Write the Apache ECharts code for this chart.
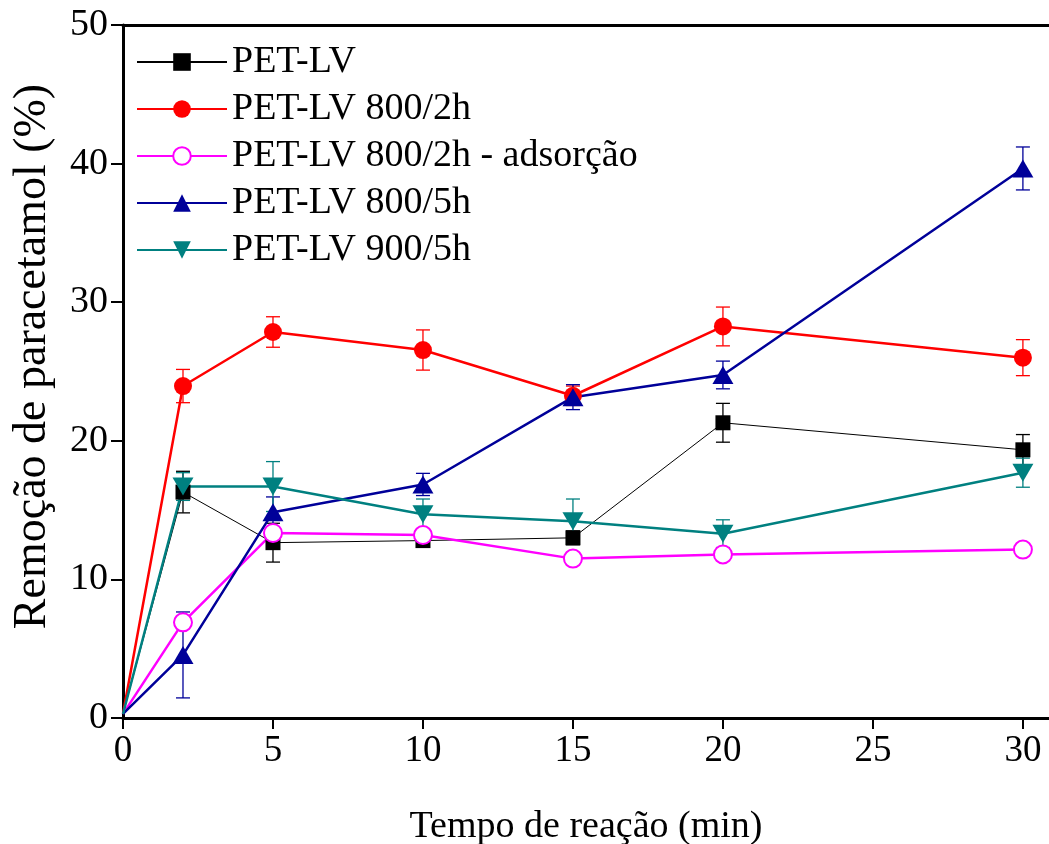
<!DOCTYPE html>
<html><head><meta charset="utf-8">
<script src="https://cdn.jsdelivr.net/npm/echarts@6/dist/echarts.min.js"></script>
<style>html,body{margin:0;padding:0;background:#fff}#c{width:1049px;height:844px}</style>
</head><body><div id="c"></div>
<script>
const times = [0, 2, 5, 10, 15, 20, 30];
const seriesNames = ["PET-LV", "PET-LV 800/2h", "PET-LV 800/2h - adsorção", "PET-LV 800/5h", "PET-LV 900/5h"];
const petLV      = [0.3, 16.3, 12.65, 12.8, 13.0, 21.3, 19.35];
const petLVErr   = [0, 1.5, 1.4, 0, 0.5, 1.4, 1.1];
const pet800_2h  = [0.3, 23.95, 27.85, 26.55, 23.25, 28.25, 26.0];
const pet800_2hErr = [0, 1.2, 1.1, 1.45, 0.7, 1.4, 1.3];
const pet800_2hAds = [0.3, 6.9, 13.35, 13.2, 11.5, 11.8, 12.15];
const pet800_2hAdsErr = [0, 0, 0, 0, 0, 0, 0];
const pet800_5h  = [0.3, 4.55, 14.85, 16.85, 23.15, 24.75, 39.65];
const pet800_5hErr = [0, 3.1, 1.1, 0.8, 0.9, 1.0, 1.55];
const pet900_5h  = [0.3, 16.7, 16.7, 14.7, 14.2, 13.3, 17.7];
const pet900_5hErr = [0, 1.0, 1.8, 1.1, 1.6, 1.0, 1.05];
const xTicks = [0, 5, 10, 15, 20, 25, 30];

const FONT = "Liberation Serif";
const colors = ["#000000", "#ff0000", "#ff00ff", "#000099", "#008080"];
const ys = [petLV, pet800_2h, pet800_2hAds, pet800_5h, pet900_5h];
const es = [petLVErr, pet800_2hErr, pet800_2hAdsErr, pet800_5hErr, pet900_5hErr];
const symbols = ["rect", "circle", "emptyCircle", "triangle", "triangle"];
const symSizes = [15, 18, 18, [21, 18], [21, 18]];
const rotates = [0, 0, 0, 0, 180];
const widths = [1, 2.5, 2.5, 2.5, 2.5];

const series = [];
ys.forEach((arr, k) => {
  series.push({
    type: 'custom', name: seriesNames[k] + ' err', silent: true, z: 1,
    data: times.map((t, i) => [t, arr[i] - es[k][i], arr[i] + es[k][i]]).filter((d, i) => es[k][i] > 0),
    renderItem: function (params, api) {
      const x = api.value(0);
      const lo = api.coord([x, api.value(1)]);
      const hi = api.coord([x, api.value(2)]);
      const w = 7;
      const st = { stroke: colors[k], lineWidth: 1.3 };
      return { type: 'group', children: [
        { type: 'line', shape: { x1: lo[0], y1: lo[1], x2: hi[0], y2: hi[1] }, style: st },
        { type: 'line', shape: { x1: lo[0] - w, y1: lo[1], x2: lo[0] + w, y2: lo[1] }, style: st },
        { type: 'line', shape: { x1: hi[0] - w, y1: hi[1], x2: hi[0] + w, y2: hi[1] }, style: st }
      ]};
    }
  });
});
ys.forEach((arr, k) => {
  series.push({
    type: 'line', name: seriesNames[k], z: 3,
    data: times.map((t, i) => i === 0 ? { value: [t, arr[i]], symbol: 'none' } : [t, arr[i]]),
    symbol: symbols[k], symbolSize: symSizes[k], symbolRotate: rotates[k],
    showAllSymbol: true,
    lineStyle: { color: colors[k], width: widths[k] },
    itemStyle: { color: colors[k], borderColor: colors[k], borderWidth: k === 2 ? 1.5 : 0 },
    emphasis: { disabled: true }, animation: false
  });
});

const chart = echarts.init(document.getElementById('c'), null, { renderer: 'canvas' });
chart.setOption({
  animation: false,
  backgroundColor: '#fff',
  textStyle: { fontFamily: FONT, color: '#000' },
  grid: { left: 123, right: 0, top: 25, bottom: 126, containLabel: false, outerBoundsMode: 'none' },
  legend: {
    orient: 'vertical', left: 131, top: 38,
    data: seriesNames,
    itemWidth: 90, itemHeight: 22, itemGap: 9,
    textStyle: { fontFamily: FONT, fontSize: 38, color: '#000', lineHeight: 38 },
    selectedMode: false
  },
  xAxis: [{
    type: 'value', min: 0, max: 30.87, interval: 5,
    name: 'Tempo de reação (min)', nameLocation: 'middle', nameGap: 90,
    nameTextStyle: { fontFamily: FONT, fontSize: 38, color: '#000' },
    axisLine: { show: true, lineStyle: { color: '#000', width: 3 } },
    axisTick: { show: true, inside: false, length: 11, lineStyle: { color: '#000', width: 2 }, customValues: xTicks },
    axisLabel: { fontFamily: FONT, fontSize: 37, color: '#000', margin: 15, customValues: xTicks },
    splitLine: { show: false }
  }, {
    type: 'value', position: 'top', min: 0, max: 30.87,
    axisLine: { show: true, lineStyle: { color: '#000', width: 3 } },
    axisTick: { show: false }, axisLabel: { show: false }, splitLine: { show: false }
  }],
  yAxis: {
    type: 'value', min: 0, max: 50, interval: 10,
    name: 'Remoção de paracetamol (%)', nameLocation: 'middle', nameGap: 67,
    nameTextStyle: { fontFamily: FONT, fontSize: 46, color: '#000', padding: [0, 0, 0, 30] },
    axisLine: { show: true, lineStyle: { color: '#000', width: 3 } },
    axisTick: { show: true, inside: false, length: 12, lineStyle: { color: '#000', width: 2 } },
    axisLabel: { fontFamily: FONT, fontSize: 38, color: '#000', margin: 15 },
    splitLine: { show: false }
  },
  series: series
});
</script></body></html>
